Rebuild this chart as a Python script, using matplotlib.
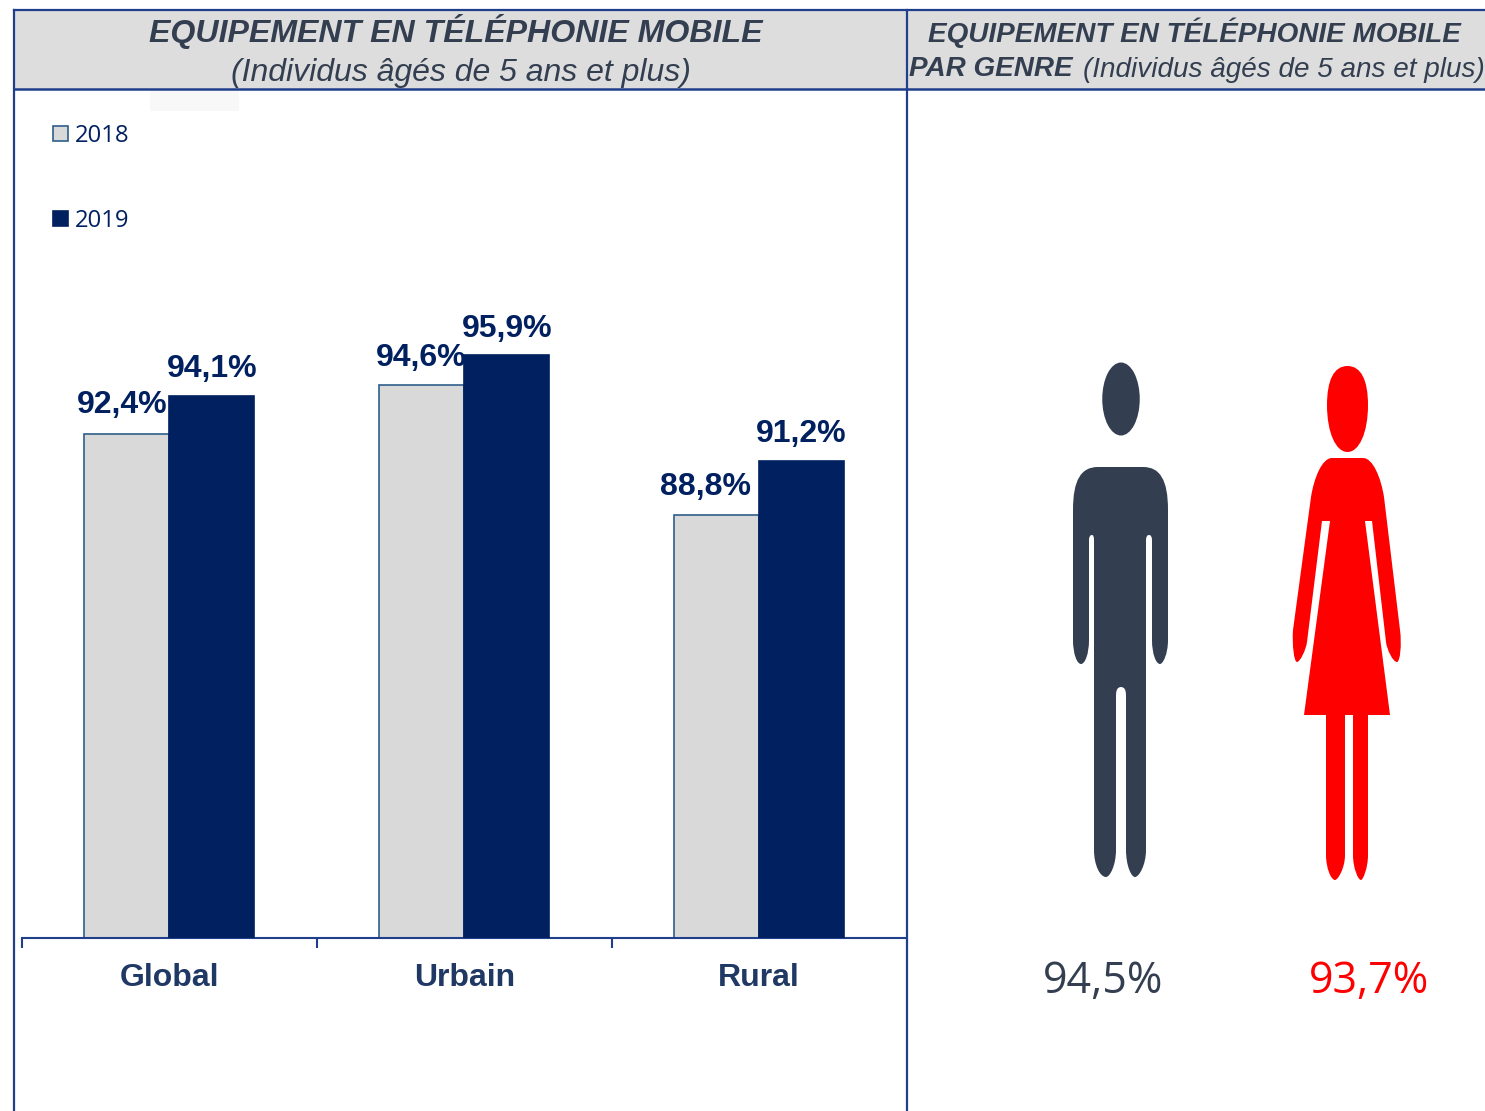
import matplotlib
matplotlib.use("Agg")
import matplotlib.pyplot as plt
import numpy as np
from matplotlib.path import Path
from matplotlib.patches import PathPatch, Rectangle, Ellipse
from matplotlib.ticker import FixedLocator, NullFormatter

# ---- data ----
categories = ["Global", "Urbain", "Rural"]
series_names = ["2018", "2019"]
values_2018 = [92.4, 94.6, 88.8]
values_2019 = [94.1, 95.9, 91.2]
gender_values = [94.5, 93.7]

title_left_1 = "EQUIPEMENT EN TÉLÉPHONIE MOBILE"
title_left_2 = "(Individus âgés de 5 ans et plus)"
title_right_1 = "EQUIPEMENT EN TÉLÉPHONIE MOBILE"
title_right_2a = "PAR GENRE"
title_right_2b = "(Individus âgés de 5 ans et plus)"

# ---- styles ----
W, H = 1485, 1111
NAVY = "#002060"
GREY = "#D9D9D9"
EDGE = "#2F5F8A"
SLATE = "#333F50"
LINE = "#1F3F8C"
SANS = "Liberation Sans"
LEG = "Open Sans"


def fmt(v):
    return f"{v:.1f}".replace(".", ",") + "%"


def px(x0, y0, x1, y1):
    return [x0 / W, 1 - y1 / H, (x1 - x0) / W, (y1 - y0) / H]


fig = plt.figure(figsize=(W / 100, H / 100), dpi=100, facecolor="white")

# background layer in pixel units
bg = fig.add_axes([0, 0, 1, 1], zorder=0)
bg.set_xlim(0, W)
bg.set_ylim(H, 0)
bg.axis("off")
bg.add_patch(Rectangle((14, 10), W - 14, 79, fc="#DDDDDD", ec="none"))
bg.add_patch(Rectangle((150, 90), 89, 21, fc="#F8F8F8", ec="none"))
bg.plot([14, W], [10, 10], color=LINE, lw=1.6)
bg.plot([14, W], [89, 89], color=LINE, lw=1.8)
bg.plot([14, 14], [10, H], color=LINE, lw=1.6)
bg.plot([907, 907], [10, H], color=LINE, lw=1.6)

bg.text(456, 31.5, title_left_1, ha="center", va="center", family=SANS,
        weight="bold", style="italic", fontsize=23.1, color=SLATE)
bg.text(460.5, 73, title_left_2, ha="center", va="center", family=SANS,
        style="italic", fontsize=23, color=SLATE)
bg.text(1194, 33, title_right_1, ha="center", va="center", family=SANS,
        weight="bold", style="italic", fontsize=20.1, color=SLATE)
bg.text(909, 69.5, title_right_2a, ha="left", va="center", family=SANS,
        weight="bold", style="italic", fontsize=20.1, color=SLATE)
bg.text(1083, 70, title_right_2b, ha="left", va="center", family=SANS,
        style="italic", fontsize=20.1, color=SLATE)


def make_path(cmds):
    verts, codes = [], []
    for c in cmds:
        op = c[0]
        pts = c[1:]
        if op == "M":
            verts.append(pts); codes.append(Path.MOVETO)
        elif op == "L":
            verts.append(pts); codes.append(Path.LINETO)
        elif op == "Q":
            verts += [pts[:2], pts[2:]]; codes += [Path.CURVE3] * 2
        elif op == "C":
            verts += [pts[:2], pts[2:4], pts[4:]]; codes += [Path.CURVE4] * 3
        elif op == "Z":
            verts.append((0, 0)); codes.append(Path.CLOSEPOLY)
    return Path(verts, codes)


man = make_path([
    ("M", 1098, 467), ("L", 1143, 467), ("C", 1160, 467, 1168, 480, 1168, 510),
    ("L", 1168, 640), ("C", 1168, 654, 1163, 664, 1160, 664), ("C", 1156, 664, 1152, 654, 1152, 640),
    ("L", 1152, 540), ("Q", 1152, 535, 1149, 535), ("Q", 1146, 535, 1146, 540),
    ("L", 1146, 850), ("C", 1146, 865, 1139, 877, 1135, 877), ("C", 1131, 877, 1126, 865, 1126, 850),
    ("L", 1126, 695), ("Q", 1126, 687, 1121, 687), ("Q", 1116, 687, 1116, 695),
    ("L", 1116, 850), ("C", 1116, 865, 1110, 877, 1106, 877), ("C", 1100, 877, 1094, 865, 1094, 850),
    ("L", 1094, 540), ("Q", 1094, 535, 1092, 535), ("Q", 1089, 535, 1089, 540),
    ("L", 1089, 640), ("C", 1089, 654, 1085, 664, 1081, 664), ("C", 1077, 664, 1073, 654, 1073, 640),
    ("L", 1073, 510), ("C", 1073, 480, 1081, 467, 1098, 467), ("Z",),
])
bg.add_patch(PathPatch(man, fc=SLATE, ec="none"))
bg.add_patch(Ellipse((1121, 399), 37.5, 73, fc=SLATE, ec="none"))

woman = make_path([
    ("M", 1332, 458), ("L", 1363, 458), ("C", 1373, 458, 1381, 478, 1384, 497),
    ("L", 1400, 630), ("C", 1402, 645, 1400, 662, 1397, 662), ("C", 1393, 662, 1387, 650, 1386, 642),
    ("L", 1372, 521), ("L", 1365, 521), ("L", 1390, 715), ("L", 1368, 715),
    ("L", 1368, 855), ("C", 1368, 868, 1363, 880, 1361, 880), ("C", 1358, 880, 1353, 868, 1353, 855),
    ("L", 1353, 715), ("L", 1345, 715),
    ("L", 1345, 855), ("C", 1345, 868, 1338, 880, 1335, 880), ("C", 1331, 880, 1326, 868, 1326, 855),
    ("L", 1326, 715), ("L", 1304, 715), ("L", 1330, 521), ("L", 1322, 521),
    ("L", 1307, 642), ("C", 1306, 650, 1300, 662, 1297, 662), ("C", 1294, 662, 1292, 645, 1293, 630),
    ("L", 1311, 497), ("C", 1314, 478, 1322, 458, 1332, 458), ("Z",),
])
head = make_path([
    ("M", 1347.5, 366), ("C", 1361, 366, 1368, 380, 1368, 405), ("C", 1368, 433, 1359, 452, 1347.5, 452),
    ("C", 1336, 452, 1327, 433, 1327, 405), ("C", 1327, 380, 1334, 366, 1347.5, 366), ("Z",),
])
bg.add_patch(PathPatch(woman, fc="#FF0000", ec="none"))
bg.add_patch(PathPatch(head, fc="#FF0000", ec="none"))

for v, x, c in zip(gender_values, [1103.5, 1369], [SLATE, "#FF0000"]):
    bg.text(x, 982, fmt(v), ha="center", va="center", family=LEG, fontsize=31, color=c)

# bar chart layer
ax = fig.add_axes(px(22, 263, 906.5, 938), zorder=1)
ax.patch.set_alpha(0)
ax.set_xlim(-0.5, 2.5)
ax.set_ylim(70, 100)
x = np.arange(len(categories))
bw = 85 / 294.67
b1 = ax.bar(x - bw / 2, values_2018, bw, color=GREY, edgecolor=EDGE, linewidth=1.2,
            label=series_names[0], zorder=2)
b2 = ax.bar(x + bw / 2, values_2019, bw, color=NAVY, edgecolor=NAVY, linewidth=1.2,
            label=series_names[1], zorder=3)

label_shift_2018 = [(-5, 29.5), (-1, 26.5), (-11, 28.5)]
label_shift_2019 = [(0, 26.5), (0, 26.5), (0, 27)]
for bars, vals, shifts in ((b1, values_2018, label_shift_2018), (b2, values_2019, label_shift_2019)):
    for r, v, (dx, dy) in zip(bars, vals, shifts):
        ax.annotate(fmt(v), (r.get_x() + r.get_width() / 2, v), xytext=(dx * .72, dy * .72),
                    textcoords="offset points", ha="center", va="center", family=SANS,
                    weight="bold", fontsize=23, color=NAVY, zorder=5)

for s in ("top", "left", "right"):
    ax.spines[s].set_visible(False)
ax.spines["bottom"].set_color(LINE)
ax.spines["bottom"].set_linewidth(1.5)
ax.set_yticks([])
ax.set_xticks(x)
ax.set_xticklabels(categories, family=SANS, weight="bold", fontsize=23, color="#1F3864")
ax.tick_params(axis="x", which="major", length=0, pad=17.7)
ax.xaxis.set_minor_locator(FixedLocator([-0.5, 0.5, 1.5]))
ax.xaxis.set_minor_formatter(NullFormatter())
ax.tick_params(axis="x", which="minor", length=7, width=1.5, color=LINE, direction="out")

leg = ax.legend(handles=[b1, b2], loc="upper left", bbox_to_anchor=(53 / W, 1 - 124 / H),
                bbox_transform=fig.transFigure, frameon=False, borderaxespad=0, borderpad=0,
                prop={"family": LEG, "size": 17.2}, labelcolor=NAVY, labelspacing=2.55,
                handlelength=0.62, handleheight=0.62, handletextpad=0.28)

fig.savefig("out.png", dpi=100, facecolor="white")
